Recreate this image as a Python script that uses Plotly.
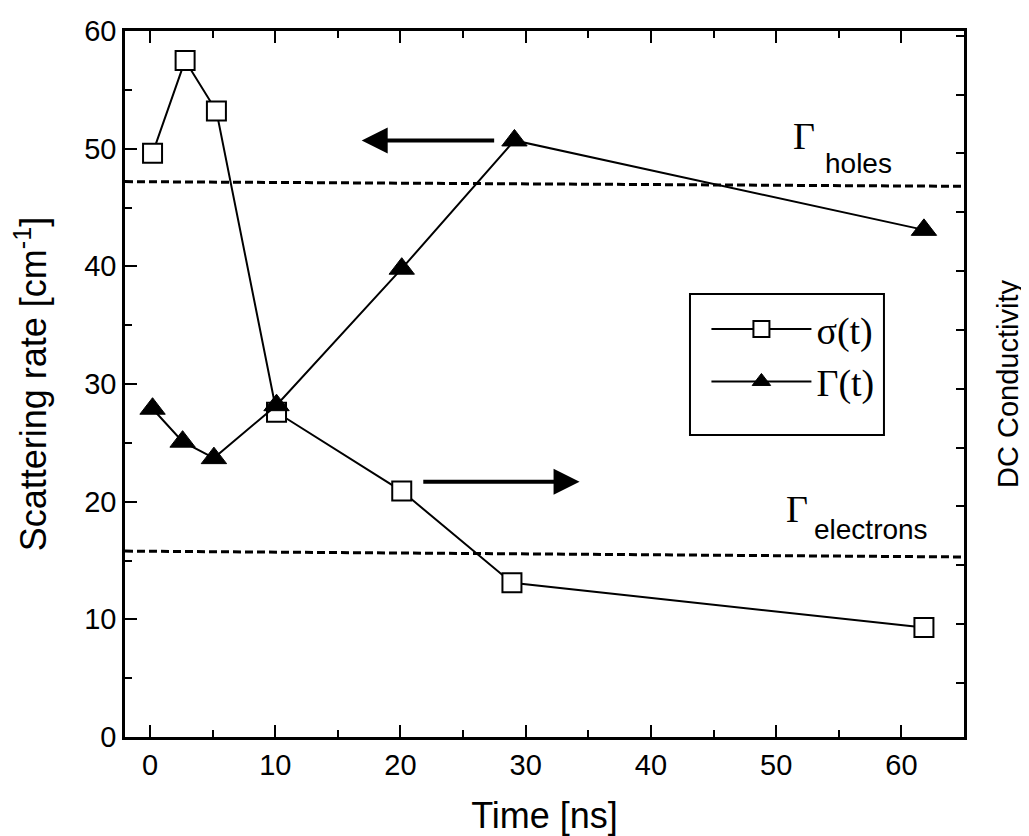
import plotly.graph_objects as go

# ---- data ----
sigma_t = [0.2, 2.8, 5.3, 10.1, 20.1, 28.9, 61.8]
sigma_v = [49.6, 57.5, 53.2, 27.6, 20.9, 13.1, 9.3]

gamma_t = [0.2, 2.6, 5.1, 10.1, 20.1, 29.1, 61.8]
gamma_v = [27.9, 25.1, 23.7, 28.2, 39.8, 50.7, 43.1]

holes_x = [-2, 65]
holes_y = [47.2, 46.8]
electrons_x = [-2, 65]
electrons_y = [15.8, 15.3]

x_ticks = [0, 10, 20, 30, 40, 50, 60]
y_ticks = [0, 10, 20, 30, 40, 50, 60]

SANS = "Liberation Sans, Arial, sans-serif"
SERIF = "Liberation Serif, Times New Roman, serif"

fig = go.Figure()

fig.add_trace(go.Scatter(x=holes_x, y=holes_y, mode="lines",
                         line=dict(color="black", width=3, dash="8px,4px"),
                         showlegend=False, hoverinfo="skip"))
fig.add_trace(go.Scatter(x=electrons_x, y=electrons_y, mode="lines",
                         line=dict(color="black", width=3, dash="8px,4px"),
                         showlegend=False, hoverinfo="skip"))

fig.add_trace(go.Scatter(x=sigma_t, y=sigma_v, mode="lines+markers", name="σ(t)",
                         line=dict(color="black", width=2),
                         marker=dict(symbol="square", size=19, color="white",
                                     line=dict(color="black", width=2)),
                         legendgroup="a"))
fig.add_trace(go.Scatter(x=gamma_t, y=gamma_v, mode="lines+markers", name="Γ(t)",
                         line=dict(color="black", width=2),
                         marker=dict(symbol="triangle-up", size=22, color="black",
                                     line=dict(color="black", width=1)),
                         legendgroup="b"))

# empty trace to register right axis
fig.add_trace(go.Scatter(x=[], y=[], yaxis="y2", showlegend=False, hoverinfo="skip"))

axis_common = dict(showgrid=False, zeroline=False, showline=True, linecolor="black",
                   linewidth=2.5, ticks="inside", ticklen=12, tickwidth=2,
                   tickcolor="black", automargin=False,
                   tickfont=dict(family=SANS, size=29, color="black"))

fig.update_layout(
    width=1021, height=828,
    margin=dict(l=117, r=65, t=23, b=99),
    paper_bgcolor="white", plot_bgcolor="white",
    xaxis=dict(range=[-2, 65], tickvals=x_ticks, mirror="ticks",
               minor=dict(dtick=5, ticklen=7, tickwidth=2, ticks="inside", tickcolor="black"),
               title=dict(text="Time [ns]", font=dict(family=SANS, size=36, color="black"),
                          standoff=24),
               **axis_common),
    yaxis=dict(range=[0, 60], tickvals=y_ticks, mirror=True,
               minor=dict(dtick=5, ticklen=7, tickwidth=2, ticks="inside", tickcolor="black"),
               title=dict(text="Scattering rate [cm<sup>-1</sup>]",
                          font=dict(family=SANS, size=36, color="black"), standoff=33),
               **axis_common),
    yaxis2=dict(overlaying="y", side="right", range=[0.08, 12.08], dtick=1,
                showgrid=False, zeroline=False, showline=True, linecolor="black",
                linewidth=2.5, ticks="inside", ticklen=8, tickwidth=2, tickcolor="black",
                showticklabels=False, automargin=False,
                title=dict(text="DC Conductivity",
                           font=dict(family=SANS, size=29, color="black"), standoff=32)),
    legend=dict(x=0.693, y=0.622, xanchor="left", yanchor="top",
                borderwidth=0, bgcolor="rgba(0,0,0,0)",
                font=dict(family=SERIF, size=38, color="black"),
                traceorder="grouped", tracegroupgap=0, itemwidth=100),
    showlegend=True,
)

# legend frame
fig.add_shape(type="rect", xref="paper", yref="paper",
              x0=0.6734, x1=0.9046, y0=0.4278, y1=0.6275,
              line=dict(color="black", width=2), fillcolor="white", layer="below")

# Gamma labels
fig.add_annotation(x=51.2, y=51.1, xref="x", yref="y", text="Γ", showarrow=False,
                   xanchor="left", yanchor="middle",
                   font=dict(family=SERIF, size=38, color="black"))
fig.add_annotation(x=53.7, y=48.7, xref="x", yref="y", text="holes", showarrow=False,
                   xanchor="left", yanchor="middle",
                   font=dict(family=SANS, size=28, color="black"))
fig.add_annotation(x=50.6, y=19.4, xref="x", yref="y", text="Γ", showarrow=False,
                   xanchor="left", yanchor="middle",
                   font=dict(family=SERIF, size=38, color="black"))
fig.add_annotation(x=52.9, y=17.6, xref="x", yref="y", text="electrons", showarrow=False,
                   xanchor="left", yanchor="middle",
                   font=dict(family=SANS, size=28, color="black"))

# arrows
fig.add_annotation(x=16.9, y=50.7, ax=27.6, ay=50.7, xref="x", yref="y",
                   axref="x", ayref="y", text="", showarrow=True,
                   arrowhead=2, arrowsize=1.3, arrowwidth=4, arrowcolor="black")
fig.add_annotation(x=34.3, y=21.7, ax=21.7, ay=21.7, xref="x", yref="y",
                   axref="x", ayref="y", text="", showarrow=True,
                   arrowhead=2, arrowsize=1.3, arrowwidth=4, arrowcolor="black")

fig.write_html("out.html")
